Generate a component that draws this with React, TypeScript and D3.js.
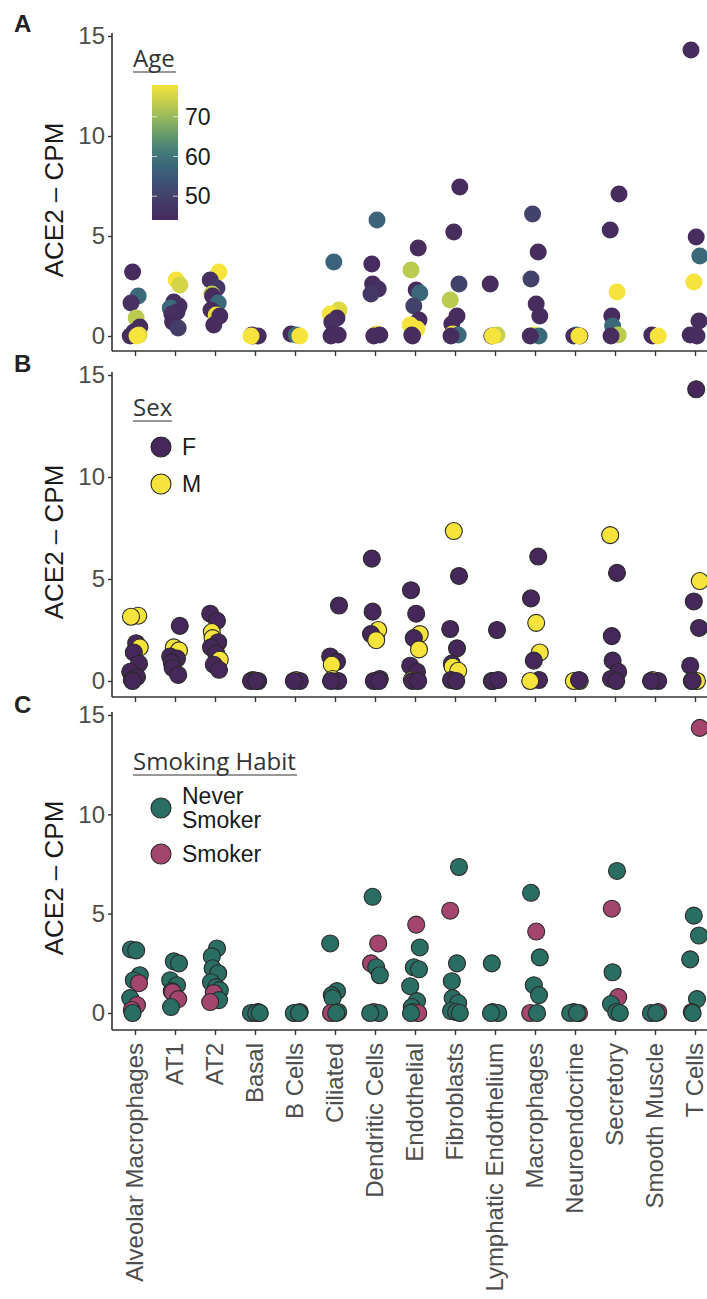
import React, { useRef, useEffect } from 'react'
import * as d3 from 'd3'

// cell types along the x axis
const categories = [
  'Alveolar Macrophages', 'AT1', 'AT2', 'Basal', 'B Cells', 'Ciliated',
  'Dendritic Cells', 'Endothelial', 'Fibroblasts', 'Lymphatic Endothelium',
  'Macrophages', 'Neuroendocrine', 'Secretory', 'Smooth Muscle', 'T Cells',
]
const yTicks = [0, 5, 10, 15]
const ageTicks = [50, 60, 70]
const ageDomain = [44, 78]

// panel A: ACE2 CPM per cell type, coloured by age
const ageValues: number[][] = [
  [3.2, 2.0, 1.65, 0.9, 0.45, 0.2, 0.05, 0, 0],
  [2.8, 2.55, 1.7, 1.5, 1.4, 1.2, 1.1, 0.7, 0.4],
  [3.2, 2.8, 2.4, 2.1, 2.0, 1.65, 1.3, 1.05, 1.0, 0.55],
  [0.05, 0, 0, 0],
  [0.1, 0.05, 0],
  [3.7, 1.3, 1.1, 0.9, 0.7, 0.1, 0.05, 0],
  [5.8, 3.6, 2.6, 2.35, 2.1, 0.1, 0.05, 0],
  [4.4, 3.3, 2.3, 2.15, 1.5, 0.8, 0.55, 0.35, 0.05, 0],
  [7.45, 5.2, 2.6, 1.8, 1.0, 0.6, 0.1, 0.05, 0],
  [2.6, 0.05, 0, 0],
  [6.1, 4.2, 2.85, 1.6, 1.0, 0.05, 0, 0],
  [0.05, 0, 0, 0],
  [7.1, 5.3, 2.2, 1.0, 0.5, 0.05, 0],
  [0.05, 0, 0],
  [14.3, 4.95, 4.0, 2.7, 0.75, 0.05, 0],
]
const ageGroups: number[][] = [
  [45, 58, 46, 73, 45, 45, 76, 45, 78],
  [78, 75, 45, 46, 58, 45, 46, 45, 49],
  [78, 46, 48, 73, 45, 58, 45, 77, 45, 45],
  [46, 45, 45, 78],
  [45, 58, 78],
  [57, 76, 78, 45, 46, 45, 45, 45],
  [57, 45, 45, 46, 48, 78, 45, 45],
  [45, 73, 45, 58, 50, 45, 78, 78, 45, 45],
  [45, 45, 50, 73, 45, 45, 78, 58, 45],
  [45, 74, 45, 78],
  [50, 45, 50, 45, 45, 78, 58, 45],
  [58, 45, 45, 78],
  [45, 45, 78, 45, 58, 73, 45],
  [45, 45, 78],
  [45, 45, 58, 78, 45, 45, 45],
]

// panel B: coloured by sex
const sexLevels = ['F', 'M']
const sexValues: number[][] = [
  [3.2, 3.15, 1.85, 1.65, 1.4, 0.85, 0.45, 0.2, 0.05, 0],
  [2.7, 1.65, 1.5, 1.2, 1.1, 0.9, 0.65, 0.3],
  [3.3, 2.95, 2.4, 2.1, 1.9, 1.65, 1.35, 1.05, 0.8, 0.55],
  [0.05, 0, 0, 0],
  [0.05, 0, 0],
  [3.7, 1.2, 0.95, 0.8, 0.1, 0, 0],
  [6.0, 3.4, 2.5, 2.3, 2.0, 0.1, 0, 0],
  [4.45, 3.3, 2.3, 2.1, 1.55, 0.75, 0.45, 0.05, 0, 0],
  [7.35, 5.15, 2.55, 1.6, 0.85, 0.7, 0.5, 0.05, 0],
  [2.5, 0, 0, 0.05],
  [6.1, 4.05, 2.85, 1.4, 1.0, 0.05, 0],
  [0, 0, 0.05],
  [7.15, 5.3, 2.2, 1.0, 0.45, 0.1, 0],
  [0.05, 0, 0],
  [14.3, 4.9, 3.9, 2.6, 0.75, 0, 0, 0],
]
const sexGroups: string[][] = [
  ['M', 'M', 'F', 'M', 'F', 'F', 'F', 'F', 'F', 'F'],
  ['F', 'M', 'M', 'F', 'F', 'F', 'F', 'F'],
  ['F', 'F', 'M', 'M', 'F', 'F', 'F', 'M', 'F', 'F'],
  ['M', 'F', 'F', 'F'],
  ['M', 'F', 'F'],
  ['F', 'F', 'F', 'M', 'M', 'F', 'F'],
  ['F', 'F', 'M', 'F', 'M', 'F', 'F', 'F'],
  ['F', 'F', 'M', 'F', 'M', 'F', 'F', 'M', 'F', 'F'],
  ['M', 'F', 'F', 'F', 'F', 'M', 'M', 'F', 'F'],
  ['F', 'M', 'F', 'F'],
  ['F', 'F', 'M', 'M', 'F', 'F', 'M'],
  ['M', 'M', 'F'],
  ['M', 'F', 'F', 'F', 'F', 'F', 'F'],
  ['M', 'F', 'F'],
  ['F', 'M', 'F', 'F', 'F', 'M', 'F', 'F'],
]

// panel C: coloured by smoking habit (N = never smoker, S = smoker)
const smokeLevels = ['N', 'S']
const smokeLabels = [['Never', 'Smoker'], ['Smoker']]
const smokeValues: number[][] = [
  [3.2, 3.15, 1.9, 1.65, 1.5, 0.75, 0.4, 0.15, 0],
  [2.6, 2.5, 1.65, 1.4, 1.1, 1.05, 0.7, 0.3],
  [3.25, 2.85, 2.25, 2.0, 1.55, 1.3, 1.15, 1.0, 0.65, 0.55],
  [0.05, 0, 0, 0],
  [0.05, 0, 0],
  [3.5, 1.1, 0.9, 0.75, 0.05, 0, 0],
  [5.85, 3.5, 2.5, 2.3, 1.9, 0.05, 0, 0],
  [4.45, 3.3, 2.3, 2.2, 1.35, 0.6, 0.3, 0.05, 0, 0],
  [7.35, 5.15, 2.5, 1.6, 0.75, 0.5, 0.1, 0.05, 0],
  [2.5, 0.05, 0, 0],
  [6.05, 4.1, 2.8, 1.4, 0.9, 0, 0],
  [0.05, 0, 0, 0],
  [7.15, 5.25, 2.05, 0.8, 0.45, 0.05, 0],
  [0.05, 0, 0],
  [14.35, 4.9, 3.9, 2.7, 0.7, 0.05, 0],
]
const smokeGroups: string[][] = [
  ['N', 'N', 'N', 'N', 'S', 'N', 'S', 'S', 'N'],
  ['N', 'N', 'N', 'N', 'N', 'S', 'S', 'N'],
  ['N', 'N', 'N', 'N', 'N', 'N', 'N', 'S', 'N', 'S'],
  ['N', 'N', 'N', 'N'],
  ['N', 'N', 'N'],
  ['N', 'N', 'N', 'N', 'N', 'S', 'N'],
  ['N', 'S', 'S', 'N', 'N', 'S', 'N', 'N'],
  ['S', 'N', 'N', 'N', 'N', 'N', 'N', 'N', 'S', 'N'],
  ['N', 'S', 'N', 'N', 'N', 'N', 'N', 'N', 'N'],
  ['N', 'N', 'N', 'N'],
  ['N', 'S', 'N', 'N', 'N', 'S', 'N'],
  ['N', 'S', 'N', 'N'],
  ['N', 'S', 'N', 'S', 'N', 'N', 'N'],
  ['S', 'N', 'N'],
  ['S', 'N', 'N', 'N', 'N', 'S', 'N'],
]

const W = 707
const H = 1299
const AXIS_X = 112
const JITTER = [-0.06, 0.08, -0.1, 0.03, 0.12, -0.03, 0.1, -0.12, 0.05, -0.08]
const FONT = '"Liberation Sans", Arial, sans-serif'
const TITLE_FONT = '"Open Sans", sans-serif'

const ageColor = d3
  .scaleSequential(d3.interpolateRgbBasis(['#47295b', '#424b72', '#2f7782', '#92bb5c', '#f6e33b']))
  .domain(ageDomain)
const sexColor = d3.scaleOrdinal<string, string>().domain(sexLevels).range(['#45275a', '#f6e33b'])
const smokeColor = d3.scaleOrdinal<string, string>().domain(smokeLevels).range(['#2a6e63', '#a3456c'])

const panels = [
  { letter: 'A', y0: 336, y15: 36, axisY: 351, letterY: 32, values: ageValues, groups: ageGroups as any[][], color: (g: any) => ageColor(g), stroke: false },
  { letter: 'B', y0: 681, y15: 375, axisY: 697, letterY: 372, values: sexValues, groups: sexGroups as any[][], color: (g: any) => sexColor(g), stroke: true },
  { letter: 'C', y0: 1013, y15: 715, axisY: 1030, letterY: 713, values: smokeValues, groups: smokeGroups as any[][], color: (g: any) => smokeColor(g), stroke: true },
]

export default function App() {
  const svgRef = useRef<SVGSVGElement>(null)

  useEffect(() => {
    document.body.style.margin = '0'
    const svg = d3.select(svgRef.current)
    svg.selectAll('*').remove()
    svg.append('rect').attr('width', W).attr('height', H).attr('fill', '#ffffff')

    const x = d3.scalePoint<string>().domain(categories).range([135, 695])
    const step = x.step()

    panels.forEach((p, pi) => {
      const y = d3.scaleLinear().domain([0, 15]).range([p.y0, p.y15])
      const g = svg.append('g')

      // panel letter
      g.append('text')
        .attr('x', 14).attr('y', p.letterY)
        .attr('font-family', FONT).attr('font-weight', 'bold').attr('font-size', 24)
        .attr('fill', '#222').text(p.letter)

      // y axis
      const yAxis = d3.axisLeft(y).tickValues(yTicks).tickSize(4).tickPadding(3)
      const ya = g.append('g').attr('transform', `translate(${AXIS_X},0)`).call(yAxis)
      ya.select('.domain').remove()
      ya.selectAll('line').attr('stroke', '#333').attr('stroke-width', 1.4)
      ya.selectAll('text').attr('font-family', FONT).attr('font-size', 24).attr('fill', '#4d4d4d')
      g.append('line')
        .attr('x1', AXIS_X).attr('x2', AXIS_X)
        .attr('y1', p.y15 - 3).attr('y2', p.axisY)
        .attr('stroke', '#333').attr('stroke-width', 1.6)

      // x axis
      const xAxis = d3.axisBottom(x).tickSize(5).tickFormat(() => '')
      const xa = g.append('g').attr('transform', `translate(0,${p.axisY})`).call(xAxis)
      xa.select('.domain').remove()
      xa.selectAll('line').attr('stroke', '#333').attr('stroke-width', 1.4)
      g.append('line')
        .attr('x1', AXIS_X).attr('x2', W)
        .attr('y1', p.axisY).attr('y2', p.axisY)
        .attr('stroke', '#333').attr('stroke-width', 1.6)

      // y title
      g.append('text')
        .attr('transform', `translate(63,${(p.y0 + p.y15) / 2 + 14}) rotate(-90)`)
        .attr('text-anchor', 'middle')
        .attr('font-family', FONT).attr('font-size', 26).attr('fill', '#1a1a1a')
        .text('ACE2 \u2013 CPM')

      // points
      const pts: { c: string; v: number; grp: any; i: number }[] = []
      p.values.forEach((vals, ci) => {
        vals.forEach((v, i) => pts.push({ c: categories[ci], v, grp: p.groups[ci][i], i }))
      })
      g.append('g')
        .selectAll('circle')
        .data(pts)
        .join('circle')
        .attr('cx', (d) => (x(d.c) as number) + JITTER[(d.i + categories.indexOf(d.c) * 3 + pi) % JITTER.length] * step)
        .attr('cy', (d) => y(d.v))
        .attr('r', 8.5)
        .attr('fill', (d) => p.color(d.grp))
        .attr('stroke', p.stroke ? '#2a2a2a' : 'none')
        .attr('stroke-width', 1.1)
    })

    // x labels under panel C
    svg.append('g')
      .selectAll('text')
      .data(categories)
      .join('text')
      .attr('transform', (d) => `translate(${x(d)},1043) rotate(-90)`)
      .attr('text-anchor', 'end')
      .attr('dy', '0.35em')
      .attr('font-family', FONT).attr('font-size', 24).attr('fill', '#4d4d4d')
      .text((d) => d)

    // legend A: colour bar
    const legA = svg.append('g')
    legA.append('text').attr('x', 133).attr('y', 67)
      .attr('font-family', TITLE_FONT).attr('font-size', 24).attr('fill', '#333').text('Age')
    legA.append('line').attr('x1', 133).attr('x2', 176).attr('y1', 72).attr('y2', 72)
      .attr('stroke', '#333').attr('stroke-width', 1.2)
    const grad = svg.append('defs').append('linearGradient')
      .attr('id', 'ageGrad').attr('x1', 0).attr('x2', 0).attr('y1', 1).attr('y2', 0)
    d3.range(0, 1.0001, 0.1).forEach((t) => {
      grad.append('stop').attr('offset', t)
        .attr('stop-color', ageColor(ageDomain[0] + t * (ageDomain[1] - ageDomain[0])))
    })
    const barY = d3.scaleLinear().domain(ageDomain).range([220, 85])
    legA.append('rect').attr('x', 152).attr('y', 85).attr('width', 26).attr('height', 135)
      .attr('fill', 'url(#ageGrad)')
    ageTicks.forEach((t) => {
      legA.append('line').attr('x1', 152).attr('x2', 157).attr('y1', barY(t)).attr('y2', barY(t))
        .attr('stroke', '#fff').attr('stroke-opacity', 0.7)
      legA.append('line').attr('x1', 173).attr('x2', 178).attr('y1', barY(t)).attr('y2', barY(t))
        .attr('stroke', '#fff').attr('stroke-opacity', 0.7)
      legA.append('text').attr('x', 185).attr('y', barY(t)).attr('dy', '0.35em')
        .attr('font-family', FONT).attr('font-size', 23).attr('fill', '#1a1a1a').text(t)
    })

    // legend B
    const legB = svg.append('g')
    legB.append('text').attr('x', 133).attr('y', 416)
      .attr('font-family', TITLE_FONT).attr('font-size', 24).attr('fill', '#333').text('Sex')
    legB.append('line').attr('x1', 133).attr('x2', 172).attr('y1', 421).attr('y2', 421)
      .attr('stroke', '#333').attr('stroke-width', 1.2)
    sexLevels.forEach((s, i) => {
      const cy = 447 + i * 37
      legB.append('circle').attr('cx', 161).attr('cy', cy).attr('r', 10)
        .attr('fill', sexColor(s)).attr('stroke', '#2a2a2a').attr('stroke-width', 1.1)
      legB.append('text').attr('x', 182).attr('y', cy).attr('dy', '0.36em')
        .attr('font-family', FONT).attr('font-size', 23).attr('fill', '#1a1a1a').text(s)
    })

    // legend C
    const legC = svg.append('g')
    legC.append('text').attr('x', 133).attr('y', 770)
      .attr('font-family', TITLE_FONT).attr('font-size', 24).attr('fill', '#333').text('Smoking Habit')
    legC.append('line').attr('x1', 133).attr('x2', 297).attr('y1', 775).attr('y2', 775)
      .attr('stroke', '#333').attr('stroke-width', 1.2)
    smokeLevels.forEach((s, i) => {
      const cy = 808 + i * 46
      legC.append('circle').attr('cx', 161).attr('cy', cy).attr('r', 10)
        .attr('fill', smokeColor(s)).attr('stroke', '#2a2a2a').attr('stroke-width', 1.1)
      const lines = smokeLabels[i]
      lines.forEach((ln, li) => {
        legC.append('text').attr('x', 182)
          .attr('y', cy + (li - (lines.length - 1) / 2) * 24).attr('dy', '0.36em')
          .attr('font-family', FONT).attr('font-size', 23).attr('fill', '#1a1a1a').text(ln)
      })
    })
  }, [])

  return <svg ref={svgRef} width={W} height={H} style={{ display: 'block' }} />
}
